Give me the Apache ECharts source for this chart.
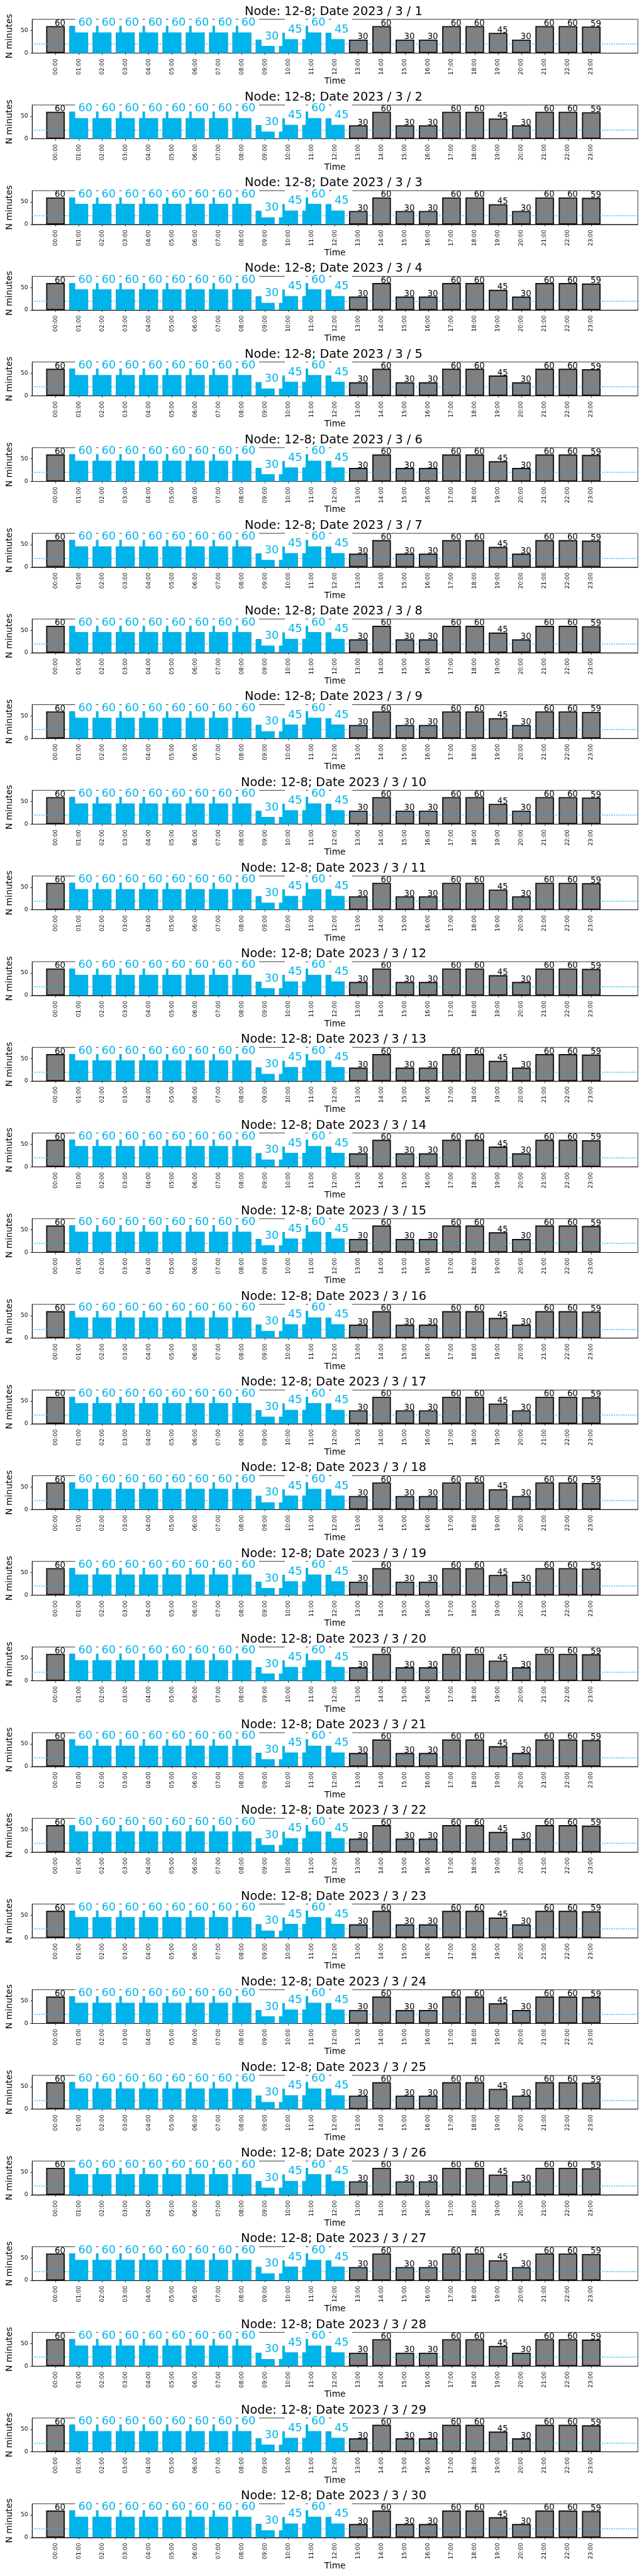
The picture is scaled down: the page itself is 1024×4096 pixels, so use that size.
<!DOCTYPE html>
<html><head><meta charset="utf-8">
<script src="https://cdn.jsdelivr.net/npm/echarts@6/dist/echarts.min.js"></script>
<style>html,body{margin:0;padding:0;background:#fff}#c{width:1024px;height:4096px}</style>
</head><body><div id="c"></div>
<script>
// ---- data ----
const node = '12-8';
const year = 2023;
const month = 3;
const days = [1,2,3,4,5,6,7,8,9,10,11,12,13,14,15,16,17,18,19,20,21,22,23,24,25,26,27,28,29,30];
const hours = ['00:00','01:00','02:00','03:00','04:00','05:00','06:00','07:00','08:00','09:00','10:00','11:00',
               '12:00','13:00','14:00','15:00','16:00','17:00','18:00','19:00','20:00','21:00','22:00','23:00'];
const minutes = [60,60,60,60,60,60,60,60,60,30,45,60,45,30,60,30,30,60,60,45,30,60,60,59];
const highlightedHours = [1,2,3,4,5,6,7,8,9,10,11,12];
const referenceLevel = 20;
const yTicks = [0, 50];
const yMax = 75;

// ---- layout / style ----
const S = 1024 / 1500;
const BLUE = '#00b4eb';
const GRAY = '#808080';
const FONT = 'DejaVu Sans';
const gridLeft = 68.3 * S, gridWidth = (1485.7 - 68.3) * S;
const gridTop0 = 45 * S, gridPeriod = 199.54 * S, gridHeight = 78.7 * S;

// category slots: one empty slot before, two after (axis spans -1 .. 25)
const categories = [''].concat(hours, ['', '']);

const chart = echarts.init(document.getElementById('c'), null, {renderer: 'canvas'});
const option = {animation: false, backgroundColor: '#fff', title: [], grid: [], xAxis: [], yAxis: [], series: []};

days.forEach((d, k) => {
  const top = gridTop0 + gridPeriod * k;
  option.grid.push({left: gridLeft, width: gridWidth, top: top, height: gridHeight,
    show: true, borderColor: '#000', borderWidth: 0.8, backgroundColor: 'transparent', containLabel: false});
  option.title.push({text: `Node: ${node}; Date ${year} / ${month} / ${d}`,
    left: gridLeft + gridWidth / 2, textAlign: 'center', top: top - 21.5, padding: 0, z: 10,
    textStyle: {fontSize: 19.3, fontWeight: 'normal', color: '#000', fontFamily: FONT}});
  option.xAxis.push({type: 'category', gridIndex: k, data: categories, boundaryGap: false,
    axisLine: {show: true, lineStyle: {color: '#000', width: 0.8}},
    axisTick: {show: true, interval: (i, v) => v !== '', length: 3, lineStyle: {color: '#000', width: 0.8}},
    axisLabel: {interval: (i, v) => v !== '', rotate: 90, margin: 8.5, fontSize: 9, color: '#000', fontFamily: FONT},
    splitLine: {show: false},
    name: 'Time', nameLocation: 'middle', nameGap: 36.5,
    nameTextStyle: {fontSize: 13.8, color: '#000', fontFamily: FONT}});
  option.yAxis.push({type: 'value', gridIndex: k, min: 0, max: yMax, interval: 50,
    axisLine: {show: true, lineStyle: {color: '#000', width: 0.8}},
    axisTick: {show: true, length: 3, customValues: yTicks, lineStyle: {color: '#000', width: 0.8}},
    axisLabel: {customValues: yTicks, fontSize: 9, margin: 6.8, color: '#000', fontFamily: FONT,
      formatter: v => (yTicks.indexOf(v) >= 0 ? String(v) : '')},
    splitLine: {show: false},
    name: 'N minutes', nameLocation: 'middle', nameRotate: 90, nameGap: 22,
    nameTextStyle: {fontSize: 13.9, color: '#000', fontFamily: FONT}});

  const grayData = categories.map((c, i) => (i >= 1 && i <= 24 ? minutes[i - 1] : '-'));
  const blueData = categories.map((c, i) => (i >= 1 && i <= 24 && highlightedHours.indexOf(i - 1) >= 0 ? minutes[i - 1] : '-'));
  option.series.push({type: 'bar', xAxisIndex: k, yAxisIndex: k, data: grayData, barWidth: '80%', barGap: '-100%',
    silent: true, z: 2, itemStyle: {color: GRAY, borderColor: '#111', borderWidth: 1.9}});
  option.series.push({type: 'bar', xAxisIndex: k, yAxisIndex: k, data: blueData, barWidth: '80%', barGap: '-100%',
    silent: true, z: 3, itemStyle: {color: BLUE, borderWidth: 0},
    markLine: {silent: true, symbol: 'none', label: {show: false}, animation: false,
      lineStyle: {color: BLUE, width: 1.6, type: [1.6, 2.1], cap: 'butt'},
      data: [{yAxis: referenceLevel}]}});
  const labelData = hours.map((h, i) => [i + 1, minutes[i], highlightedHours.indexOf(i) >= 0 ? 1 : 0]);
  option.series.push({type: 'custom', xAxisIndex: k, yAxisIndex: k, data: labelData, z: 5, clip: false, silent: true,
    renderItem: (params, api) => {
      const idx = api.value(0), v = api.value(1), isBlue = api.value(2);
      const p = api.coord([idx, v]);
      if (isBlue) {
        return {type: 'group', children: [
          {type: 'rect', shape: {x: p[0] - 5.7, y: p[1] - 22.5, width: 33.1, height: 32.5}, style: {fill: '#fff'}},
          {type: 'text', x: p[0] - 0.7, y: p[1] + 4, style: {text: String(v), fill: BLUE,
            font: `17.7px "${FONT}"`, align: 'left', verticalAlign: 'bottom'}}
        ]};
      }
      return {type: 'text', x: p[0] - 1.2, y: p[1] + 2.5, style: {text: String(v), fill: '#000',
        font: `13.3px "${FONT}"`, align: 'left', verticalAlign: 'bottom'}};
    }});
});

chart.setOption(option);
</script></body></html>
